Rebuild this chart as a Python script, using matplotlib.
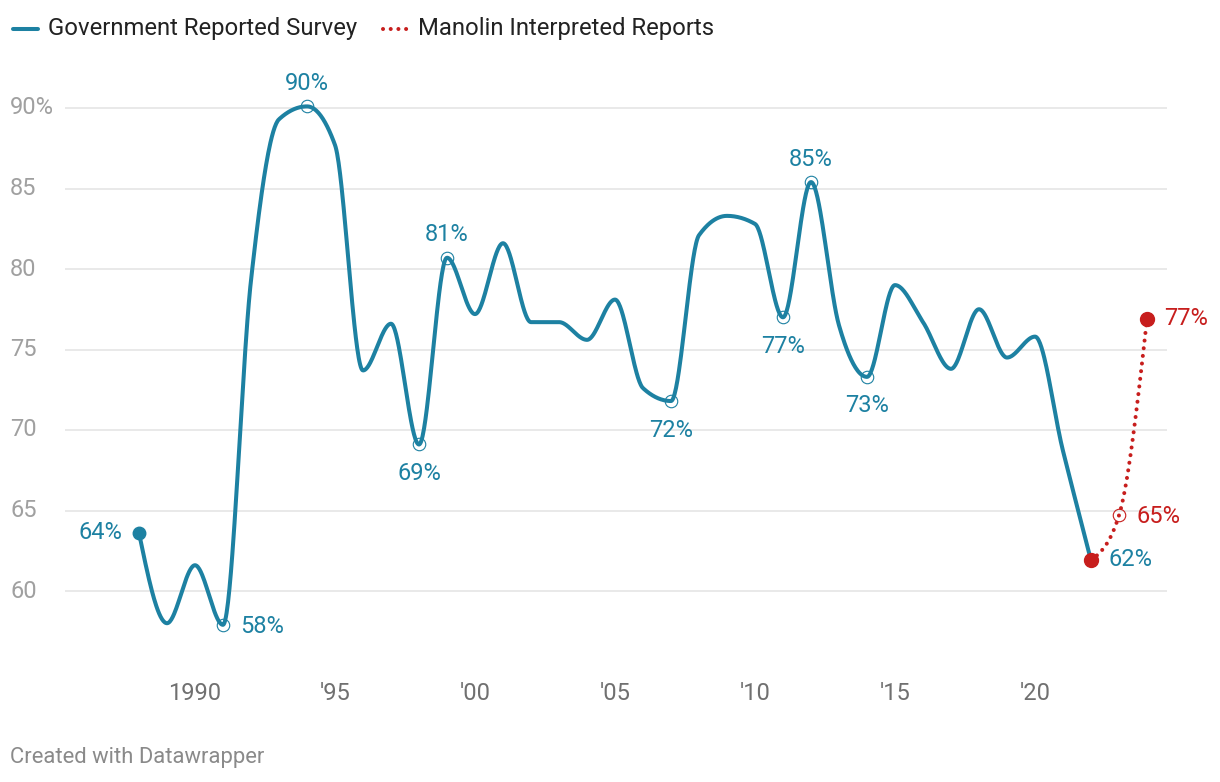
import numpy as np
import matplotlib
matplotlib.use("Agg")
import matplotlib.pyplot as plt

plt.rcParams['font.family'] = ['Roboto', 'DejaVu Sans']

years = list(range(1988, 2023))
gov = [63.6, 58.0, 61.6, 57.9, 79.3, 89.3, 90.1, 87.7, 73.7, 76.6,
       69.1, 80.7, 77.2, 81.6, 76.7, 76.7, 75.6, 78.1, 72.6, 71.8,
       82.1, 83.3, 82.8, 77.0, 85.4, 76.5, 73.3, 79.0, 76.7, 73.8,
       77.5, 74.5, 75.8, 68.7, 61.9]
man_years = [2022, 2023, 2024]
manolin = [61.9, 64.7, 76.9]

series_names = ["Government Reported Survey", "Manolin Interpreted Reports"]
x_ticks = [1990, 1995, 2000, 2005, 2010, 2015, 2020]
x_tick_labels = ["1990", "'95", "'00", "'05", "'10", "'15", "'20"]
y_ticks = [60, 65, 70, 75, 80, 85, 90]
y_tick_labels = ["60", "65", "70", "75", "80", "85", "90%"]

BLUE = "#1d81a2"
RED = "#c71e1d"


def monotone(xs, ys, n=40):
    xs = np.asarray(xs, float)
    ys = np.asarray(ys, float)
    h = np.diff(xs)
    s = np.diff(ys) / h
    m = np.zeros(len(xs))
    for i in range(1, len(xs) - 1):
        s0, s1 = s[i - 1], s[i]
        p = (s0 * h[i] + s1 * h[i - 1]) / (h[i - 1] + h[i])
        m[i] = (np.sign(s0) + np.sign(s1)) * min(abs(s0), abs(s1), 0.5 * abs(p))
    if len(xs) > 2:
        m[0] = (3 * s[0] - m[1]) / 2
        m[-1] = (3 * s[-1] - m[-2]) / 2
    else:
        m[0] = m[-1] = s[0]
    X, Y = [], []
    for i in range(len(xs) - 1):
        t = np.linspace(0, 1, n)
        h00 = 2 * t**3 - 3 * t**2 + 1
        h10 = t**3 - 2 * t**2 + t
        h01 = -2 * t**3 + 3 * t**2
        h11 = t**3 - t**2
        yy = h00 * ys[i] + h10 * h[i] * m[i] + h01 * ys[i + 1] + h11 * h[i] * m[i + 1]
        X.extend(xs[i] + t * h[i])
        Y.extend(yy)
    return np.array(X), np.array(Y)


W, H = 1220, 782
fig = plt.figure(figsize=(W / 100, H / 100), dpi=100)

left_px, right_px, top_px, bot_px = 65, 1167, 80, 660
ax = fig.add_axes([left_px / W, 1 - bot_px / H, (right_px - left_px) / W, (bot_px - top_px) / H])

px_per_year = 28.0
x0 = 1988 - (139 - left_px) / px_per_year
x1 = 2024 + (right_px - 1147) / px_per_year
ax.set_xlim(x0, x1)
ppu = 16.1
ax.set_ylim(60 - (bot_px - 591) / ppu, 60 + (591 - top_px) / ppu)

for s in ax.spines.values():
    s.set_visible(False)
ax.set_xticks([])
ax.set_yticks([])

for yt in y_ticks:
    ax.axhline(yt, color="#e3e3e3", lw=1.1, zorder=0)

TFS = 17
for yt, lab_ in zip(y_ticks, y_tick_labels):
    yp = 591 - (yt - 60) * ppu
    fig.text(10 / W, 1 - yp / H, lab_, ha="left", va="center", fontsize=TFS, color="#a0a0a0")

for xt, lab_ in zip(x_ticks, x_tick_labels):
    ax.annotate(lab_, (xt, 1 - 693 / H), xycoords=("data", "figure fraction"),
                ha="center", va="center", fontsize=TFS, color="#707070",
                annotation_clip=False)

DOTS = (0, (0.01, 1.9))
gx, gy = monotone(years, gov)
ax.plot(gx, gy, color=BLUE, lw=2.9, solid_capstyle="round", solid_joinstyle="round", zorder=3)
mx, my = monotone(man_years, manolin)
ax.plot(mx, my, color=RED, lw=2.9, linestyle=DOTS, dash_capstyle="round", zorder=2)

ax.plot([years[0]], [gov[0]], "o", color=BLUE, ms=9, zorder=5)
hollow_blue = [1991, 1994, 1998, 1999, 2007, 2011, 2012, 2014]
for yr in hollow_blue:
    ax.plot([yr], [gov[years.index(yr)]], "o", mfc="none", mec=BLUE, mew=0.8, ms=9, zorder=5)
ax.plot([2023], [manolin[1]], "o", mfc="none", mec=RED, mew=0.8, ms=9, zorder=5)
ax.plot([2022, 2024], [manolin[0], manolin[2]], "o", color=RED, ms=10, zorder=6)

fs = 17
def lab(x, y, txt, dx, dy, ha, color):
    ax.annotate(txt, (x, y), xytext=(dx * 0.72, -dy * 0.72), textcoords="offset points",
                ha=ha, va="center", fontsize=fs, color=color, zorder=7)

def g(yr):
    return gov[years.index(yr)]

lab(1988, g(1988), "64%", -17, -1, "right", BLUE)
lab(1991, g(1991), "58%", 17, 2, "left", BLUE)
lab(1994, g(1994), "90%", 0, -23, "center", BLUE)
lab(1998, g(1998), "69%", 0, 29, "center", BLUE)
lab(1999, g(1999), "81%", 0, -23, "center", BLUE)
lab(2007, g(2007), "72%", 0, 29, "center", BLUE)
lab(2011, g(2011), "77%", 0, 29, "center", BLUE)
lab(2012, g(2012), "85%", 0, -23, "center", BLUE)
lab(2014, g(2014), "73%", 0, 29, "center", BLUE)
lab(2022, g(2022), "62%", 17, -1, "left", BLUE)
lab(2023, manolin[1], "65%", 17, 1, "left", RED)
lab(2024, manolin[2], "77%", 17, 0, "left", RED)

ly = 1 - 28.5 / H
fig.lines.append(plt.Line2D([13 / W, 38 / W], [ly, ly], color=BLUE, lw=2.9,
                            solid_capstyle="round", transform=fig.transFigure))
fig.text(48 / W, ly, series_names[0], ha="left", va="center", fontsize=17.2, color="#222222")
fig.lines.append(plt.Line2D([383 / W, 410 / W], [ly, ly], color=RED, lw=2.9,
                            linestyle=DOTS, dash_capstyle="round",
                            transform=fig.transFigure))
fig.text(418 / W, ly, series_names[1], ha="left", va="center", fontsize=17.2, color="#222222")

fig.text(10 / W, 1 - 758 / H, "Created with Datawrapper", ha="left", va="center",
         fontsize=15.8, color="#8a8a8a")

fig.savefig("out.png", dpi=100, facecolor="white")
